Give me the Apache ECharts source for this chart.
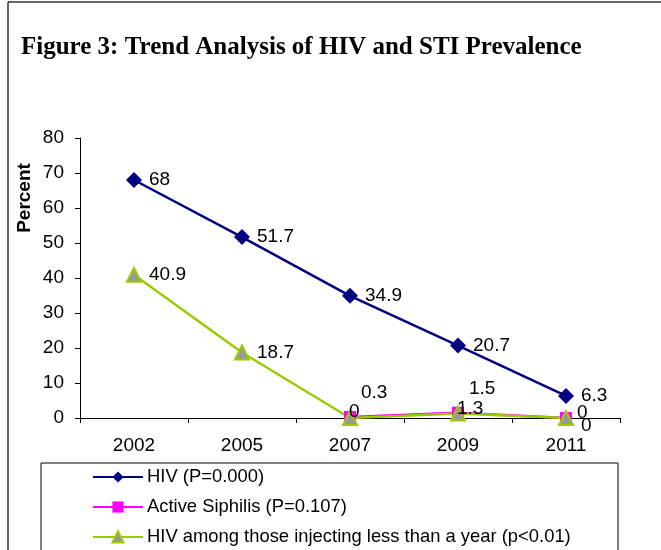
<!DOCTYPE html>
<html><head><meta charset="utf-8">
<script src="https://cdn.jsdelivr.net/npm/echarts@6/dist/echarts.min.js"></script>
<style>html,body{margin:0;padding:0;background:#fff}#c{width:661px;height:550px}</style>
</head><body><div id="c"></div>
<script>
const categories = ['2002', '2005', '2007', '2009', '2011'];
const hivValues = [68, 51.7, 34.9, 20.7, 6.3];
const syphilisValues = [null, null, 0.3, 1.5, 0];
const injectingValues = [40.9, 18.7, 0, 1.3, 0];
const seriesNames = ['HIV (P=0.000)', 'Active Siphilis (P=0.107)', 'HIV among those injecting less than a year (p<0.01)'];
const yTicks = { min: 0, max: 80, interval: 10 };

const chart = echarts.init(document.getElementById('c'), null, { renderer: 'canvas' });
const font = 'Arial, "Liberation Sans", sans-serif';
const fs = 19;
function legendRow(name, top) {
  return {
    orient: 'horizontal', left: 92, top: top, padding: 0, itemWidth: 50, itemHeight: 14, itemGap: 0,
    textStyle: { fontFamily: font, fontSize: 18.4, color: '#000', padding: [0, 0, 0, -1] },
    data: [name]
  };
}
// label nudges (Excel-moved labels), keyed by series and category index
const nudge = {
  1: { 2: [0, -24], 3: [0, -24], 4: [0, -5] },
  2: { 2: [-16, -6], 3: [-16, -5], 4: [0, 8] }
};
chart.setOption({
  animation: false,
  backgroundColor: '#fff',
  title: {
    text: 'Figure 3: Trend Analysis of HIV and STI Prevalence',
    left: 21, top: 35, padding: 0,
    textStyle: { fontFamily: '"Liberation Serif", "Times New Roman", serif', fontSize: 25, fontWeight: 'bold', color: '#000' }
  },
  grid: { left: 80, right: 41, top: 138, bottom: 132 },
  legend: [legendRow(seriesNames[0], 468), legendRow(seriesNames[1], 498), legendRow(seriesNames[2], 528)],
  xAxis: {
    type: 'category', data: categories, boundaryGap: true,
    axisLine: { lineStyle: { color: '#000', width: 1 } },
    axisTick: { show: true, length: 5, lineStyle: { color: '#000' } },
    axisLabel: { fontFamily: font, fontSize: fs, color: '#000', margin: 18 }
  },
  yAxis: {
    type: 'value', min: yTicks.min, max: yTicks.max, interval: yTicks.interval,
    axisLine: { show: true, lineStyle: { color: '#000', width: 1 } },
    axisTick: { show: true, length: 5, lineStyle: { color: '#000' } },
    axisLabel: { fontFamily: font, fontSize: fs, color: '#000', margin: 16 },
    splitLine: { show: false }
  },
  series: [
    {
      name: seriesNames[0], type: 'line', data: hivValues,
      symbol: 'diamond', symbolSize: 16,
      lineStyle: { color: '#000080', width: 2.5 },
      itemStyle: { color: '#000080' },
      label: { show: true, position: 'right', distance: 7, fontFamily: font, fontSize: fs, color: '#000' }
    },
    {
      name: seriesNames[1], type: 'line', data: syphilisValues,
      symbol: 'rect', symbolSize: 12,
      lineStyle: { color: '#ff00ff', width: 2.5 },
      itemStyle: { color: '#ff00ff' },
      label: { show: true, position: 'right', distance: 5, fontFamily: font, fontSize: fs, color: '#000' },
      labelLayout: function (p) { const n = nudge[1][p.dataIndex] || [0, 0]; return { dx: n[0], dy: n[1] }; }
    },
    {
      name: seriesNames[2], type: 'line', data: injectingValues,
      symbol: 'triangle', symbolSize: 14,
      lineStyle: { color: '#99cc00', width: 2.5 },
      itemStyle: { color: '#999999', borderColor: '#99cc00', borderWidth: 2 },
      label: { show: true, position: 'right', distance: 7, fontFamily: font, fontSize: fs, color: '#000' },
      labelLayout: function (p) { const n = nudge[2][p.dataIndex] || [0, 0]; return { dx: n[0], dy: n[1] }; }
    }
  ],
  graphic: [
    { type: 'line', shape: { x1: 8, y1: 2, x2: 661, y2: 2 }, style: { stroke: '#333', lineWidth: 1.5 }, silent: true },
    { type: 'line', shape: { x1: 8, y1: 2, x2: 8, y2: 550 }, style: { stroke: '#333', lineWidth: 1.5 }, silent: true },
    { type: 'rect', shape: { x: 41, y: 463, width: 577, height: 100 }, style: { fill: 'none', stroke: '#000', lineWidth: 1 }, silent: true, z: -1 },
    { type: 'text', x: 25, y: 198, rotation: Math.PI / 2, silent: true,
      style: { text: 'Percent', fontFamily: font, fontSize: 19, fontWeight: 'bold', fill: '#000', align: 'center', verticalAlign: 'middle' } }
  ]
});
</script></body></html>
